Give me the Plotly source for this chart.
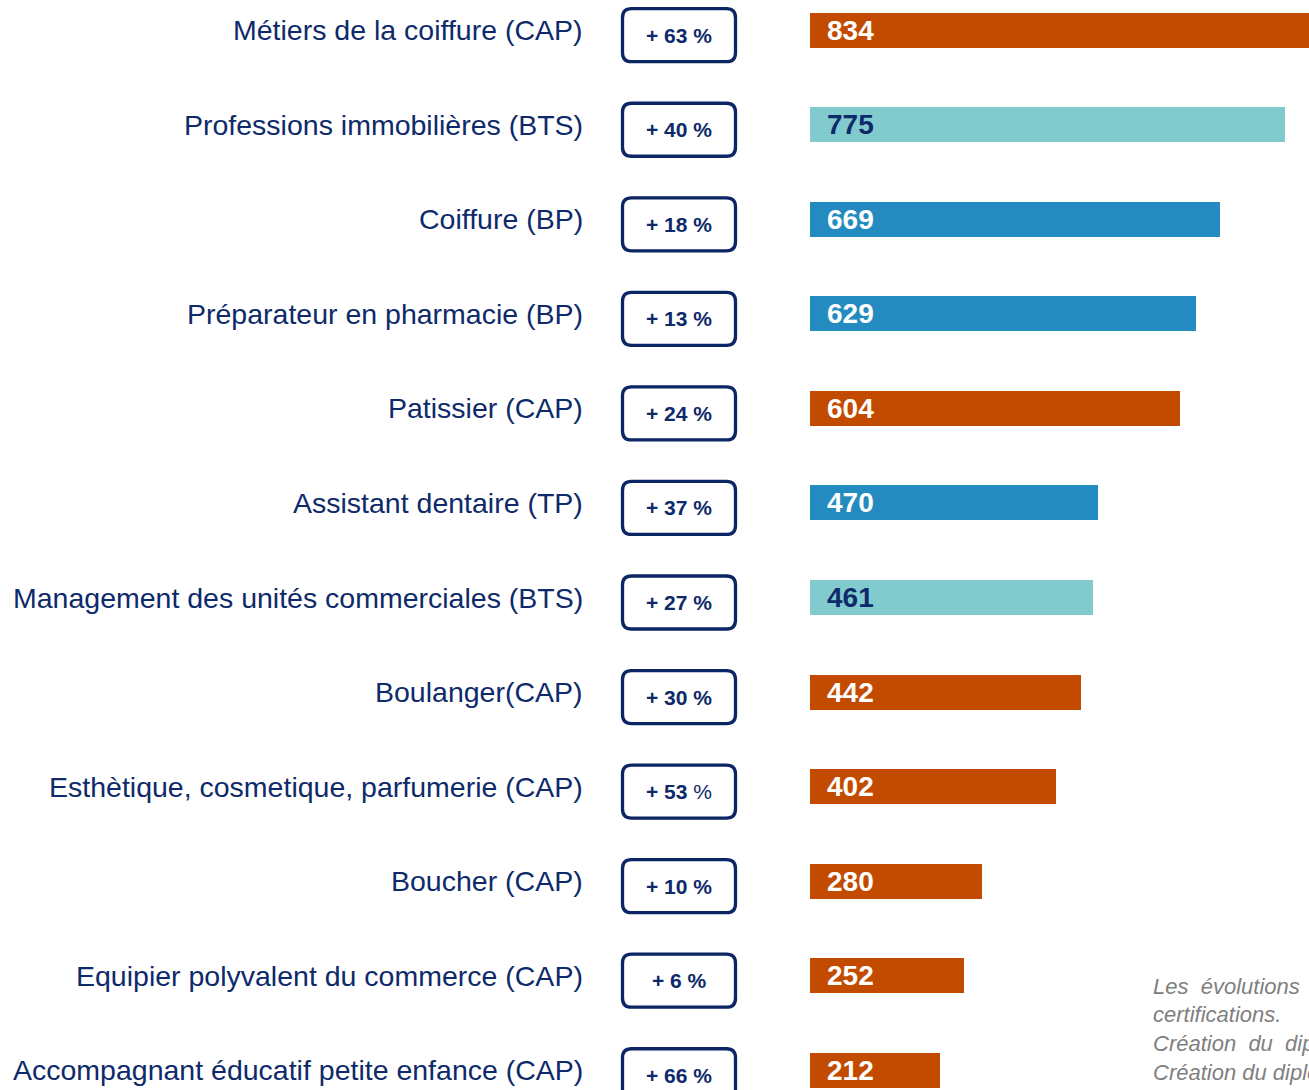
import plotly.graph_objects as go

labels = [
    "Métiers de la coiffure (CAP)",
    "Professions immobilières (BTS)",
    "Coiffure (BP)",
    "Préparateur en pharmacie (BP)",
    "Patissier (CAP)",
    "Assistant dentaire (TP)",
    "Management des unités commerciales (BTS)",
    "Boulanger(CAP)",
    "Esthètique, cosmetique, parfumerie (CAP)",
    "Boucher (CAP)",
    "Equipier polyvalent du commerce (CAP)",
    "Accompagnant éducatif petite enfance (CAP)",
]
values = [834, 775, 669, 629, 604, 470, 461, 442, 402, 280, 252, 212]
growth = [63, 40, 18, 13, 24, 37, 27, 30, 53, 10, 6, 66]
levels = ["CAP", "BTS", "BP", "BP", "CAP", "TP", "BTS", "CAP", "CAP", "CAP", "CAP", "CAP"]
note_lines = ["Les\u00a0\u00a0évolutions\u00a0\u00a0sont", "certifications.",
              "Création\u00a0\u00a0du\u00a0\u00a0diplôme", "Création du diplôme"]

W, H = 1309, 1090
NAVY = "#0E2A6A"
FONT = "Liberation Sans, Arial, sans-serif"
bar_colors = {"CAP": "#C24B00", "BTS": "#81CBCE", "BP": "#248BC0", "TP": "#248BC0"}
text_colors = {"CAP": "white", "BTS": NAVY, "BP": "white", "TP": "white"}

fig = go.Figure()
fig.add_trace(go.Bar(
    x=values, y=labels, orientation="h",
    marker=dict(color=[bar_colors[l] for l in levels], line=dict(width=0)),
    width=0.37, hoverinfo="skip", showlegend=False,
))

annotations = []
shapes = []

# rounded box path (pixels, centered)
bw, bh, r = 113, 53, 9
hw, hh = bw / 2, bh / 2
dy = -5
path = (f"M {-hw + r},{-hh + dy} L {hw - r},{-hh + dy} Q {hw},{-hh + dy} {hw},{-hh + r + dy} "
        f"L {hw},{hh - r + dy} Q {hw},{hh + dy} {hw - r},{hh + dy} "
        f"L {-hw + r},{hh + dy} Q {-hw},{hh + dy} {-hw},{hh - r + dy} "
        f"L {-hw},{-hh + r + dy} Q {-hw},{-hh + dy} {-hw + r},{-hh + dy} Z")

for lab, v, g, lv in zip(labels, values, growth, levels):
    annotations.append(dict(
        x=585 / W, xref="paper", y=lab, yref="y", xanchor="right", yanchor="middle",
        text=lab, showarrow=False, font=dict(family=FONT, size=28.5, color=NAVY)))
    shapes.append(dict(
        type="path", xref="paper", yref="y", xsizemode="pixel", ysizemode="pixel",
        xanchor=679 / W, yanchor=lab, path=path,
        line=dict(color="#0B2565", width=3.3), fillcolor="white", layer="above"))
    gtxt = f"<b>+ {g}</b> %" if g == 53 else f"<b>+ {g} %</b>"
    annotations.append(dict(
        x=679 / W, xref="paper", y=lab, yref="y", xanchor="center", yanchor="middle",
        yshift=dy, text=gtxt, showarrow=False, font=dict(family=FONT, size=21, color=NAVY)))
    annotations.append(dict(
        x=0, xref="x", y=lab, yref="y", xanchor="left", yanchor="middle", xshift=15,
        text=f"<b>{v}</b>", showarrow=False,
        font=dict(family=FONT, size=28, color=text_colors[lv])))

for i, line in enumerate(note_lines):
    ypix = 986 + i * 28.7
    annotations.append(dict(
        x=1151 / W, xref="paper", y=1 - ypix / H, yref="paper", xanchor="left",
        yanchor="middle", text=f"<i>{line}</i>", showarrow=False,
        font=dict(family=FONT, size=22, color="#7F7F7F")))

px_per_unit = 0.613
bar_start = 810
fig.update_layout(
    width=W, height=H, margin=dict(l=0, r=0, t=0, b=0),
    paper_bgcolor="white", plot_bgcolor="white",
    xaxis=dict(domain=[bar_start / W, 1], range=[0, (W - bar_start) / px_per_unit],
               visible=False, fixedrange=True),
    yaxis=dict(type="category", categoryorder="array", categoryarray=labels,
               range=[(H - 30.2) / 94.55, -30.2 / 94.55], visible=False, fixedrange=True),
    annotations=annotations, shapes=shapes, bargap=0,
)

fig.write_html("out.html", config={"displayModeBar": False},
               post_script="document.body.style.margin='0';document.body.style.overflow='hidden';")
